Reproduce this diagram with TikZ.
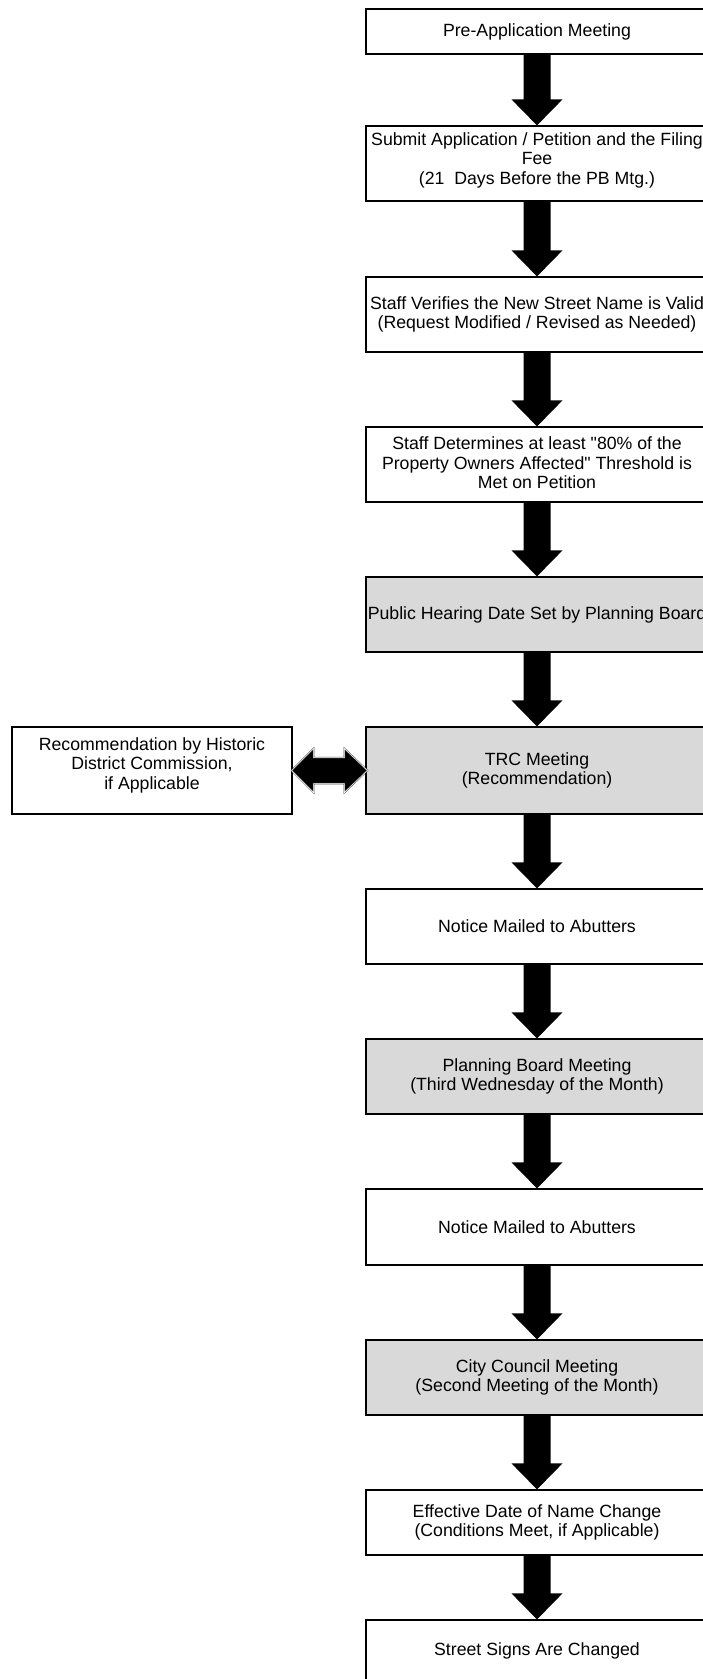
\documentclass[tikz,border=0pt]{standalone}
\usepackage{fontspec}
\setmainfont{Liberation Sans}[Ligatures=TeXOff]
\usetikzlibrary{calc}
\definecolor{boxgray}{RGB}{217,217,217}
\tikzset{
  flowfont/.style={font=\fontsize{17.7}{19.5}\selectfont},
  flowbox/.style={draw=black, line width=1.2pt, rectangle, inner sep=0pt,
    minimum width=342pt, align=center, flowfont},
  plainbox/.style={flowbox, fill=white},
  graybox/.style={flowbox, fill=boxgray},
  boxtext/.style={inner sep=0pt, align=center, flowfont},
  bigarrow/.style={fill=black},
  twinarrow/.style={fill=black, draw=black!70, line width=0.5pt,
    double=white, double distance=0.5pt, line join=miter},
}
% thick black block arrow from the bottom of one box to the top of the next
\newcommand\blockarrow[2]{%
  \fill[bigarrow] ($(#1.south)+(-13.5,0)$) -- ($(#2.north)+(-13.5,-26)$)
    -- ($(#2.north)+(-25.5,-26)$) -- (#2.north) -- ($(#2.north)+(25.5,-26)$)
    -- ($(#2.north)+(13.5,-26)$) -- ($(#1.south)+(13.5,0)$) -- cycle;}
\begin{document}
\begin{tikzpicture}[x=1pt, y=-1pt]
  \useasboundingbox (0,0) rectangle (703,1679);
  \clip (0,0) rectangle (703,1679);

  \node[plainbox, minimum height=45pt] (b1) at (537,31.5) {Pre-Application Meeting};
  \node[plainbox, minimum height=75pt] (b2) at (537,163.5) {};
  \node[boxtext] (t2) at (537,160) {Submit Application / Petition and the Filing\\Fee\\(21\ \ Days Before the PB Mtg.)};
  \node[plainbox, minimum height=75pt] (b3) at (537,314.5) {Staff Verifies the New Street Name is Valid\\(Request Modified / Revised as Needed)};
  \node[plainbox, minimum height=75pt] (b4) at (537,464.5) {};
  \node[boxtext] (t4) at (537,463) {Staff Determines at least "80\% of the\\Property Owners Affected" Threshold is\\Met on Petition};
  \node[graybox, minimum height=75pt] (b5) at (537,614.5) {Public Hearing Date Set by Planning Board};
  \node[graybox, minimum height=87pt] (b6) at (537,770.5) {TRC Meeting\\(Recommendation)};
  \node[plainbox, minimum width=280pt, minimum height=87pt] (hdc) at (152,770.5) {};
  \node[boxtext] (thdc) at (152,765) {Recommendation by Historic\\District Commission,\\if Applicable};
  \node[plainbox, minimum height=75pt] (b7) at (537,926.5) {Notice Mailed to Abutters};
  \node[graybox, minimum height=75pt] (b8) at (537,1076.5) {Planning Board Meeting\\(Third Wednesday of the Month)};
  \node[plainbox, minimum height=76pt] (b9) at (537,1227) {Notice Mailed to Abutters};
  \node[graybox, minimum height=75pt] (b10) at (537,1377.5) {City Council Meeting\\(Second Meeting of the Month)};
  \node[plainbox, minimum height=65pt] (b11) at (537,1522.5) {Effective Date of Name Change\\(Conditions Meet, if Applicable)};
  \node[plainbox, minimum height=62pt] (b12) at (537,1651) {Street Signs Are Changed};

  \blockarrow{b1}{b2}
  \blockarrow{b2}{b3}
  \blockarrow{b3}{b4}
  \blockarrow{b4}{b5}
  \blockarrow{b5}{b6}
  \blockarrow{b6}{b7}
  \blockarrow{b7}{b8}
  \blockarrow{b8}{b9}
  \blockarrow{b9}{b10}
  \blockarrow{b10}{b11}
  \blockarrow{b11}{b12}

  % two-headed arrow between the commission box and the TRC meeting
  \coordinate (dl) at ($(hdc.east)+(-1,0)$);
  \coordinate (dr) at ($(b6.west)+(2,0)$);
  \path[twinarrow] (dl) -- ($(dl)+(22,-22)$) -- ($(dl)+(22,-13)$)
    -- ($(dr)+(-23,-13)$) -- ($(dr)+(-23,-22)$) -- (dr)
    -- ($(dr)+(-23,22)$) -- ($(dr)+(-23,13)$) -- ($(dl)+(22,13)$)
    -- ($(dl)+(22,22)$) -- cycle;
\end{tikzpicture}
\end{document}
